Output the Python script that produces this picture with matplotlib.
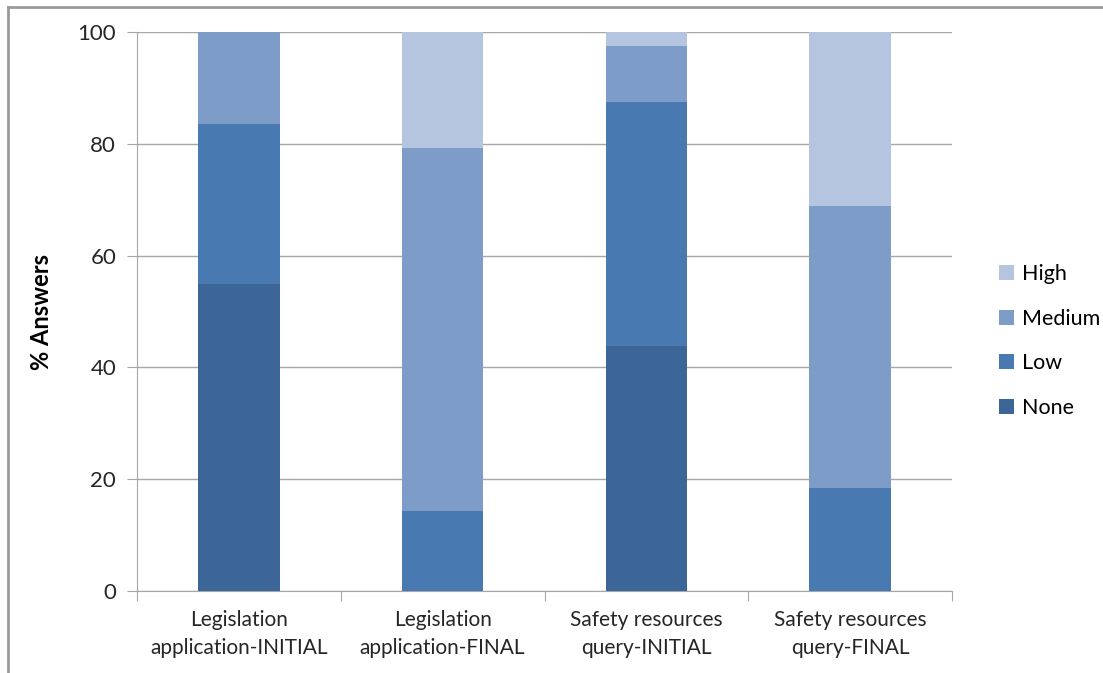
import matplotlib
matplotlib.use('Agg')
import matplotlib.pyplot as plt
from matplotlib.lines import Line2D
import numpy as np

plt.rcParams['font.family'] = ['Lato', 'DejaVu Sans']

categories = ['Legislation\napplication-INITIAL', 'Legislation\napplication-FINAL',
              'Safety resources\nquery-INITIAL', 'Safety resources\nquery-FINAL']
levels = ['None', 'Low', 'Medium', 'High']
none_vals = [54.9, 0.0, 43.8, 0.0]
low_vals = [28.6, 14.3, 43.7, 18.4]
medium_vals = [16.5, 64.9, 10.0, 50.5]
high_vals = [0.0, 20.8, 2.5, 31.1]
colors = ['#3c6697', '#4879b1', '#7d9cc8', '#b5c4df']

series = [none_vals, low_vals, medium_vals, high_vals]

fig = plt.figure(figsize=(11.03, 6.73), dpi=100)
ax = fig.add_axes([137 / 1103, 1 - 591 / 673, 815 / 1103, 559 / 673])

x = np.arange(len(categories))
bottom = np.zeros(len(categories))
handles = []
for name, vals, c in zip(levels, series, colors):
    vals = np.array(vals)
    h = ax.bar(x, vals, width=0.4, bottom=bottom, color=c, edgecolor='none', label=name, zorder=3)
    handles.append(h)
    bottom += vals

ax.set_xlim(-0.5, len(categories) - 0.5)
ax.set_ylim(0, 100)
ax.set_yticks(range(0, 101, 20))
ax.yaxis.grid(True, color='#a6a6a6', linewidth=1.0, zorder=0)
ax.set_axisbelow(True)

for s in ['top', 'right']:
    ax.spines[s].set_visible(False)
ax.spines['left'].set_color('#a6a6a6')
ax.spines['bottom'].set_color('#a6a6a6')

# category ticks sit between bars, names centred under bars
ax.set_xticks(np.arange(-0.5, len(categories), 1.0))
ax.set_xticklabels([])
ax.set_xticks(x, minor=True)
ax.set_xticklabels(categories, minor=True)
ax.tick_params(axis='x', which='major', length=7, color='#a6a6a6', direction='out')
ax.tick_params(axis='x', which='minor', length=0, pad=14, labelsize=15, labelcolor='#262626')
for lbl in ax.get_xticklabels(minor=True):
    lbl.set_linespacing(1.5)
ax.tick_params(axis='y', length=7, color='#a6a6a6', labelsize=16, labelcolor='#262626', pad=8)

ax.set_ylabel('% Answers', fontsize=17, fontweight='bold', labelpad=18)

leg = fig.legend(handles[::-1], levels[::-1], loc='center left',
                 bbox_to_anchor=(980 / 1103, 1 - 341 / 673), frameon=False,
                 fontsize=15.5, handlelength=0.7, handleheight=0.7,
                 handletextpad=0.35, labelspacing=1.15)

# outer chart border
fig.add_artist(Line2D([8 / 1103, 1.0], [1 - 7 / 673, 1 - 7 / 673], color='#9a9a9a', lw=2,
                      transform=fig.transFigure))
fig.add_artist(Line2D([8 / 1103, 8 / 1103], [0, 1 - 7 / 673], color='#9a9a9a', lw=2,
                      transform=fig.transFigure))

fig.savefig('out.png', dpi=100)
